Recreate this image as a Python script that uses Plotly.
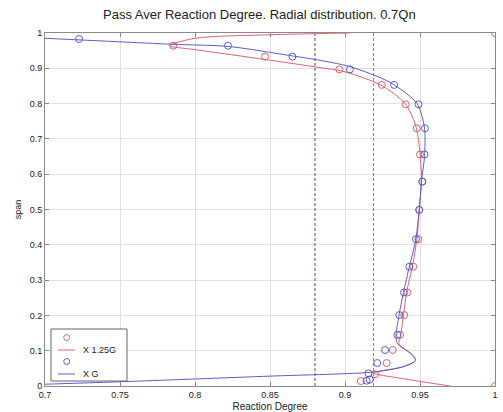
import plotly.graph_objects as go

# Measured points (reaction degree vs span)
red_pts_x = [1.0, 0.7855, 0.8467, 0.8962, 0.9245, 0.9405, 0.9478, 0.9500, 0.9515, 0.9495,
             0.9489, 0.9455, 0.9416, 0.9395, 0.9367, 0.9318, 0.9278, 0.9200, 0.9105, 1.0]
red_pts_y = [1.0, 0.964, 0.933, 0.897, 0.853, 0.798, 0.730, 0.656, 0.579, 0.499,
             0.416, 0.338, 0.265, 0.201, 0.145, 0.102, 0.065, 0.033, 0.014, 0.0]

blue_pts_x = [0.7227, 0.8220, 0.8650, 0.9033, 0.9327, 0.9490, 0.9533, 0.9530, 0.9515, 0.9495,
              0.9473, 0.9429, 0.9393, 0.9362, 0.9349, 0.9267, 0.9215, 0.9156, 0.9144, 0.9165]
blue_pts_y = [0.983, 0.964, 0.933, 0.897, 0.853, 0.798, 0.730, 0.656, 0.579, 0.499,
              0.416, 0.338, 0.265, 0.201, 0.145, 0.102, 0.065, 0.036, 0.015, 0.018]

# Fitted radial distributions
red_fit_x = [0.903, 0.85, 0.80, 0.783, 0.80, 0.85, 0.88, 0.90, 0.925, 0.940, 0.947, 0.950,
             0.951, 0.9495, 0.948, 0.945, 0.941, 0.939, 0.937, 0.936, 0.945, 0.947, 0.939,
             0.919, 0.940, 0.970]
red_fit_y = [1.0, 0.995, 0.985, 0.964, 0.953, 0.923, 0.904, 0.890, 0.850, 0.800, 0.740, 0.660,
             0.580, 0.500, 0.420, 0.340, 0.265, 0.200, 0.140, 0.120, 0.088, 0.072, 0.055,
             0.037, 0.020, 0.0]

blue_fit_x = [0.70, 0.75, 0.785, 0.822, 0.865, 0.880, 0.903, 0.930, 0.948, 0.953, 0.953,
              0.951, 0.9495, 0.947, 0.943, 0.939, 0.936, 0.934, 0.935, 0.945, 0.947, 0.939,
              0.920, 0.85, 0.75, 0.70]
blue_fit_y = [0.985, 0.975, 0.968, 0.962, 0.935, 0.925, 0.905, 0.860, 0.800, 0.730, 0.650,
              0.580, 0.500, 0.410, 0.340, 0.265, 0.200, 0.140, 0.120, 0.088, 0.072, 0.055,
              0.040, 0.028, 0.012, 0.005]

# Passage-averaged reaction degree
red_avg = 0.919
blue_avg = 0.880

x_ticks = [0.7, 0.75, 0.8, 0.85, 0.9, 0.95, 1.0]
y_ticks = [0, 0.1, 0.2, 0.3, 0.4, 0.5, 0.6, 0.7, 0.8, 0.9, 1.0]

series_names = ["X 1.25G", "X G"]

RED = "#e0606e"
BLUE = "#5c5cd0"

fig = go.Figure()

fig.add_trace(go.Scatter(x=[blue_avg, blue_avg], y=[0, 1], mode="lines", showlegend=False,
                         line=dict(color="#4a4a8a", width=1, dash="3px,2px")))
fig.add_trace(go.Scatter(x=[red_avg, red_avg], y=[0, 1], mode="lines", showlegend=False,
                         line=dict(color="#d06878", width=1, dash="3px,2px")))

fig.add_trace(go.Scatter(x=red_pts_x, y=red_pts_y, mode="markers", showlegend=False,
                         marker=dict(symbol="circle-open", size=7, color=RED,
                                     line=dict(width=1, color=RED))))
fig.add_trace(go.Scatter(x=red_fit_x, y=red_fit_y, mode="lines", name=series_names[0],
                         showlegend=False,
                         line=dict(color=RED, width=1, shape="spline", smoothing=0.8)))
fig.add_trace(go.Scatter(x=blue_pts_x, y=blue_pts_y, mode="markers", showlegend=False,
                         marker=dict(symbol="circle-open", size=7, color=BLUE,
                                     line=dict(width=1, color=BLUE))))
fig.add_trace(go.Scatter(x=blue_fit_x, y=blue_fit_y, mode="lines", name=series_names[1],
                         showlegend=False,
                         line=dict(color=BLUE, width=1, shape="spline", smoothing=0.8)))

axis_common = dict(
    showgrid=True, gridcolor="#e2e2e2", gridwidth=1,
    showline=True, linecolor="#8a8a8a", linewidth=1, mirror="ticks",
    ticks="inside", ticklen=4, tickcolor="#8a8a8a",
    zeroline=False, tickfont=dict(size=9, color="#222"),
)

fig.update_xaxes(range=[0.7, 1.0], tickvals=x_ticks, automargin=False,
                 ticktext=["0.7", "0.75", "0.8", "0.85", "0.9", "0.95", "1"],
                 title=dict(text="Reaction Degree", font=dict(size=10, color="#222"), standoff=6),
                 **axis_common)
fig.update_yaxes(range=[0, 1.0], tickvals=y_ticks,
                 ticktext=["0", "0.1", "0.2", "0.3", "0.4", "0.5", "0.6", "0.7", "0.8", "0.9", "1"],
                 title=dict(text="span", font=dict(size=9, color="#222"), standoff=6),
                 **axis_common)

# MATLAB-style legend box: marker row, then line + label row, for each series
W, H = 450.0, 353.0          # plot area size in px
def px(x):
    return x / W
def py(y):
    return y / H

box = dict(x0=px(6), x1=px(82), y0=py(5), y1=py(57))
fig.add_shape(type="rect", xref="paper", yref="paper", **box,
              line=dict(color="#666", width=1), fillcolor="white", layer="above")
for i, (name, col) in enumerate(zip(series_names, [RED, BLUE])):
    ym = 48.5 - i * 24      # marker row (px above bottom of plot area)
    yl = 36 - i * 24        # line row
    fig.add_shape(type="circle", xref="paper", yref="paper",
                  x0=px(18.7), x1=px(24.7), y0=py(ym - 3), y1=py(ym + 3),
                  line=dict(color=col, width=1), layer="above")
    fig.add_shape(type="line", xref="paper", yref="paper",
                  x0=px(13), x1=px(30), y0=py(yl), y1=py(yl),
                  line=dict(color=col, width=1), layer="above")
    fig.add_annotation(xref="paper", yref="paper", x=px(36), y=py(yl),
                       xanchor="left", yanchor="middle", showarrow=False,
                       text=name, font=dict(size=9, color="#222"))

fig.update_layout(
    width=503, height=412,
    margin=dict(l=45, r=8, t=33, b=26),
    paper_bgcolor="white", plot_bgcolor="white",
    font=dict(family="Liberation Sans, Arial, sans-serif", color="#222"),
    title=dict(text="Pass Aver Reaction Degree. Radial distribution. 0.7Qn",
               x=103 / 503, xanchor="left", y=0.975, yanchor="top",
               font=dict(size=13, color="#222")),
    showlegend=False,
)

fig.write_html("out.html")
